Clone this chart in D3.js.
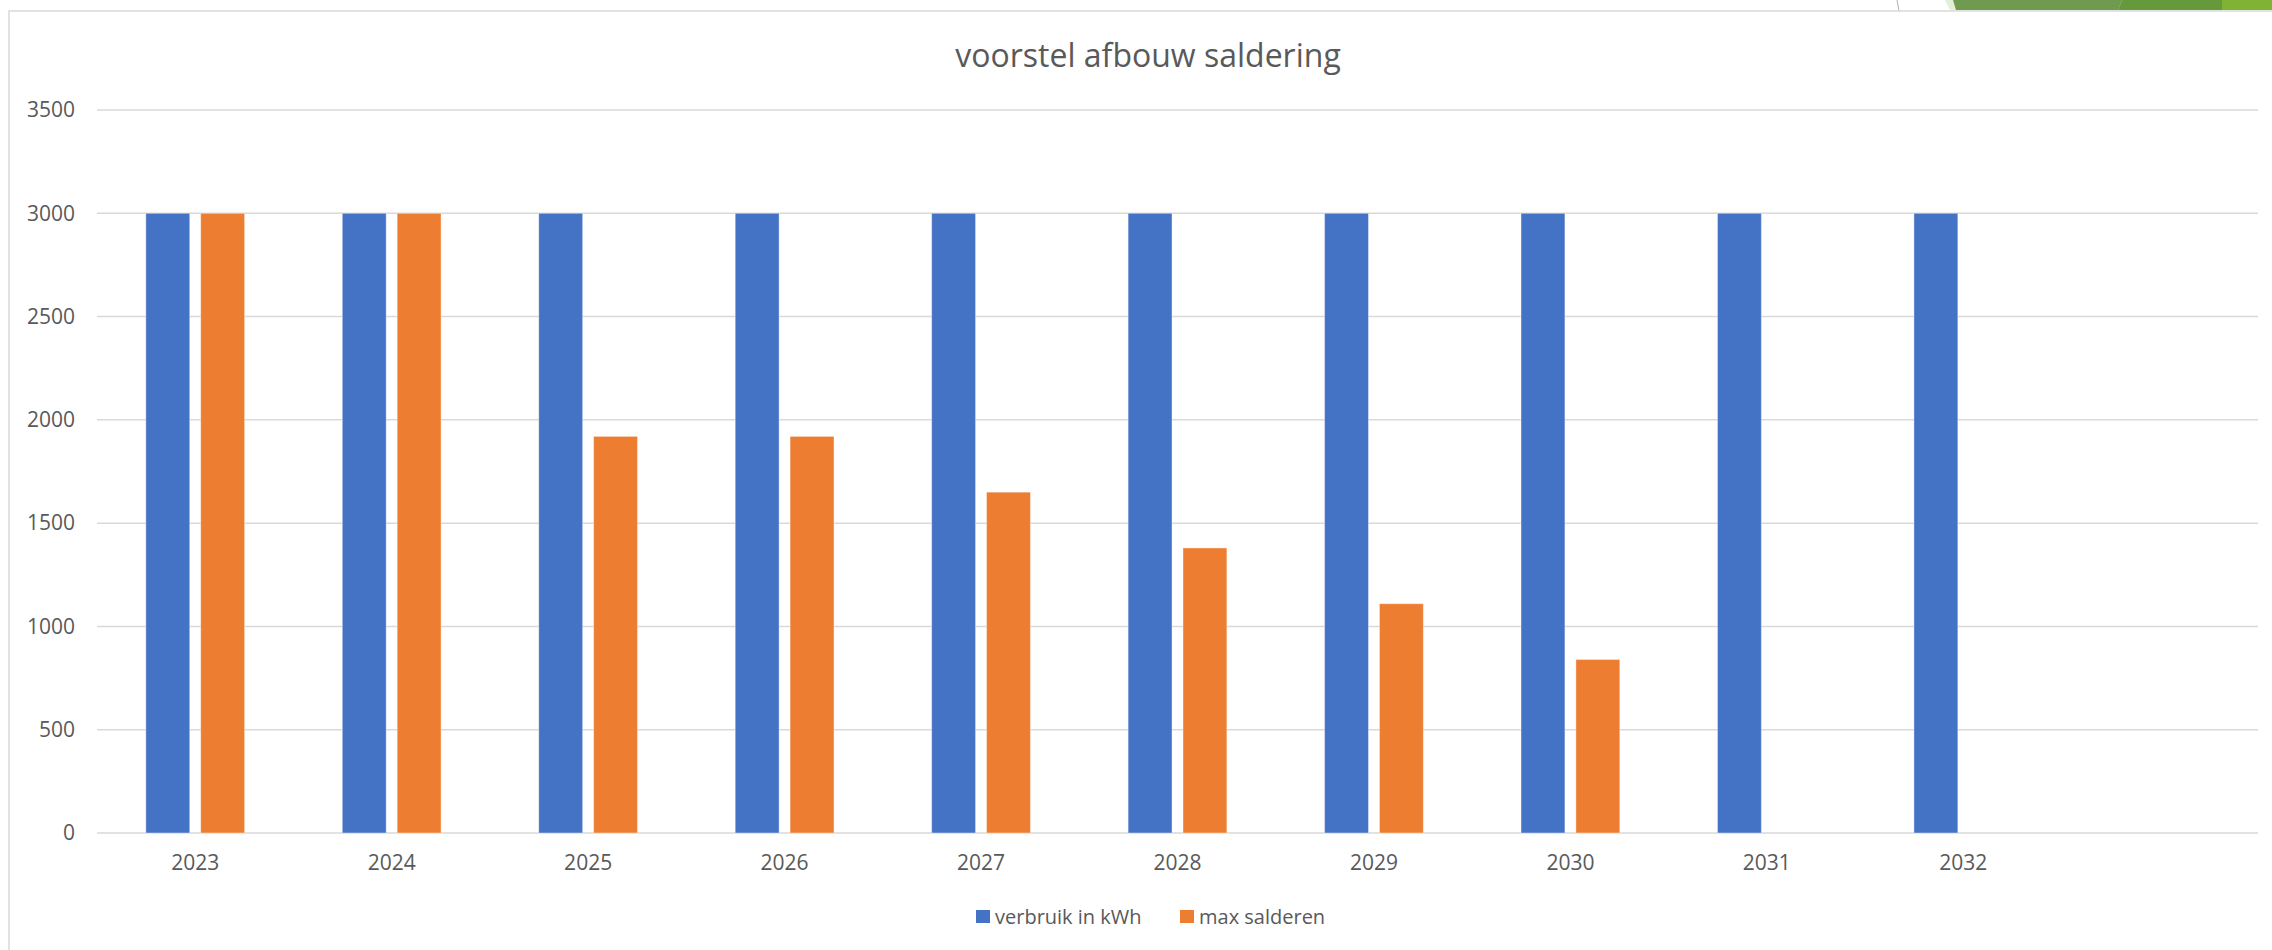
<!DOCTYPE html>
<html>
<head>
<meta charset="utf-8">
<script src="https://cdn.jsdelivr.net/npm/d3@7"></script>
<style>
  body { margin: 0; background: #fff; }
  svg { display: block; }
  svg text { font-family: 'Open Sans', 'Noto Sans', sans-serif; }
</style>
</head>
<body>
<div id="app"></div>
<script>
// chart data
var years = ['2023', '2024', '2025', '2026', '2027', '2028', '2029', '2030', '2031', '2032', '']
var verbruik = [3000, 3000, 3000, 3000, 3000, 3000, 3000, 3000, 3000, 3000, null]
var salderen = [3000, 3000, 1920, 1920, 1650, 1380, 1110, 840, null, null, null]
var seriesNames = ['verbruik in kWh', 'max salderen']
var yTicks = [0, 500, 1000, 1500, 2000, 2500, 3000, 3500]

var width = 2272
var height = 950
var colors = ['#4472c4', '#ed7d31']
var textColor = '#595959'

var svg = d3.select('#app').append('svg')
	.attr('width', width)
	.attr('height', height)

// slide decoration top right
var deco = svg.append('g')
deco.append('line').attr('x1', 1897).attr('y1', 0).attr('x2', 1899).attr('y2', 11)
	.attr('stroke', '#b0b0b0').attr('stroke-width', 1)
deco.append('polygon').attr('points', '1945,0 2272,0 2272,10 1950,10').attr('fill', '#e2efd9')
deco.append('polygon').attr('points', '1953,0 2122,0 2118,10 1956,10').attr('fill', '#6f9a4f')
deco.append('polygon').attr('points', '2122,0 2222,0 2222,10 2118,10').attr('fill', '#66983c')
deco.append('rect').attr('x', 2222).attr('y', 0).attr('width', 50).attr('height', 10).attr('fill', '#80b234')

// chart border
svg.append('path')
	.attr('d', 'M9,' + height + 'V11H' + width)
	.attr('fill', 'none')
	.attr('stroke', '#d9d9d9')
	.attr('stroke-width', 1.5)

var margin = { left: 97, right: 14, top: 110, bottom: 117 }

var x0 = d3.scaleBand()
	.domain(years)
	.range([margin.left, width - margin.right])

var x1 = d3.scaleBand()
	.domain(seriesNames)
	.range([0, x0.bandwidth()])
	.paddingInner(0.2)
	.paddingOuter(0.89)

var y = d3.scaleLinear()
	.domain([0, 3500])
	.range([height - margin.bottom, margin.top])

// gridlines
svg.append('g')
	.selectAll('line')
	.data(yTicks)
	.enter().append('line')
	.attr('x1', margin.left)
	.attr('x2', width - margin.right)
	.attr('y1', function(d) { return y(d) })
	.attr('y2', function(d) { return y(d) })
	.attr('stroke', '#d9d9d9')
	.attr('stroke-width', 1.5)

// y axis labels
var yAxis = d3.axisLeft(y).tickValues(yTicks).tickFormat(d3.format('d')).tickSize(0).tickPadding(22)
svg.append('g')
	.attr('transform', 'translate(' + margin.left + ',0)')
	.call(yAxis)
	.attr('font-family', null)
	.call(function(g) { g.select('.domain').remove() })
	.selectAll('text')
	.attr('fill', textColor)
	.style('font-size', '21px')

// x axis labels
var xAxis = d3.axisBottom(x0).tickSize(0).tickPadding(22)
svg.append('g')
	.attr('transform', 'translate(0,' + y(0) + ')')
	.call(xAxis)
	.attr('font-family', null)
	.call(function(g) { g.select('.domain').remove() })
	.selectAll('text')
	.attr('fill', textColor)
	.style('font-size', '21px')

// bars
var rows = years.map(function(yr, i) {
	return { year: yr, values: [verbruik[i], salderen[i]] }
})

var groups = svg.append('g')
	.selectAll('g')
	.data(rows)
	.enter().append('g')
	.attr('transform', function(d) { return 'translate(' + x0(d.year) + ',0)' })

groups.selectAll('rect')
	.data(function(d) {
		return d.values.map(function(v, j) { return { name: seriesNames[j], value: v, i: j } })
			.filter(function(e) { return e.value != null })
	})
	.enter().append('rect')
	.attr('x', function(d) { return x1(d.name) })
	.attr('width', x1.bandwidth())
	.attr('y', function(d) { return y(d.value) })
	.attr('height', function(d) { return y(0) - y(d.value) })
	.attr('fill', function(d) { return colors[d.i] })
	.attr('stroke', '#fff')
	.attr('stroke-opacity', 0.4)
	.attr('stroke-width', 1)

// title
svg.append('text')
	.attr('x', 1148)
	.attr('y', 67)
	.attr('text-anchor', 'middle')
	.attr('fill', textColor)
	.style('font-size', '32px')
	.text('voorstel afbouw saldering')

// legend
var legend = svg.append('g').attr('transform', 'translate(976,917)')
var legendX = [0, 204]
seriesNames.forEach(function(name, i) {
	var item = legend.append('g').attr('transform', 'translate(' + legendX[i] + ',0)')
	item.append('rect')
		.attr('x', 0).attr('y', -7)
		.attr('width', 14).attr('height', 13)
		.attr('fill', colors[i])
	item.append('text')
		.attr('x', 19)
		.attr('y', 0)
		.attr('dy', '0.35em')
		.attr('fill', textColor)
		.style('font-size', '20px')
		.text(name)
})
</script>
</body>
</html>
